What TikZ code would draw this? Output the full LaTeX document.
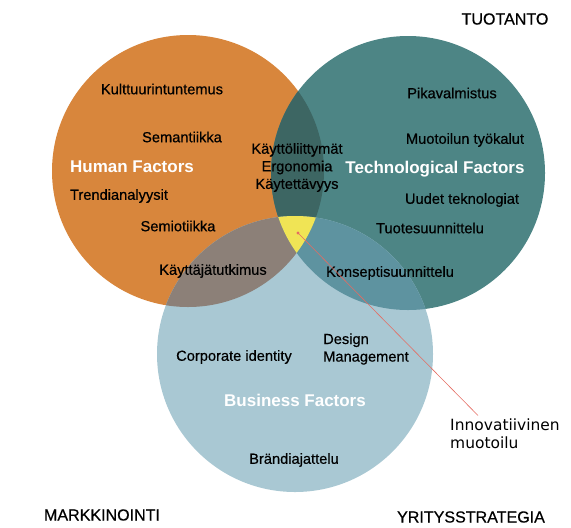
\documentclass[tikz,border=0pt]{standalone}
\usepackage{fontspec}
\setmainfont{Liberation Sans}
\newfontfamily\labfont[FakeBold=0.5]{Liberation Sans}
\newfontfamily\verdfont{DejaVu Sans}
\definecolor{humancol}{RGB}{216,134,60}
\definecolor{techcol}{RGB}{77,133,133}
\definecolor{busicol}{RGB}{169,200,211}
\definecolor{humtech}{RGB}{61,102,99}
\definecolor{humbusi}{RGB}{140,128,120}
\definecolor{techbusi}{RGB}{94,147,160}
\definecolor{innocol}{RGB}{240,228,85}
\definecolor{pointcol}{RGB}{228,108,98}
\tikzset{
  lab/.style={inner sep=0pt,font=\labfont\fontsize{12.5}{15}\selectfont},
  factor/.style={inner sep=0pt,text=white,font=\fontsize{14.5}{17}\selectfont\bfseries},
  corner/.style={inner sep=0pt,font=\labfont\fontsize{13.7}{16}\selectfont},
  pointer/.style={pointcol,line width=0.5pt}
}
\begin{document}
\begin{tikzpicture}[x=0.03cm,y=-0.03cm]
\useasboundingbox (0,0) rectangle (571,527);
\def\human{(188,171) circle (136)}
\def\tech{(408,173) circle (137)}
\def\busi{(295,354) circle (138)}
% the three circles
\fill[humancol] \human;
\fill[techcol] \tech;
\fill[busicol] \busi;
% overlaps
\begin{scope}
  \clip \human;
  \fill[humtech] \tech;
  \fill[humbusi] \busi;
\end{scope}
\begin{scope}
  \clip \tech;
  \fill[techbusi] \busi;
  \clip \human;
  \fill[innocol] \busi;
\end{scope}
% corners
\node[corner] (tuot) at (505,19) {TUOTANTO};
\node[corner] (mark) at (102,515) {MARKKINOINTI};
\node[corner] (yrit) at (471,517) {YRITYSSTRATEGIA};
% human factors
\node[factor] (humf) at (132,167) {Human Factors};
\node[lab] (kult) at (162,89) {Kulttuurintuntemus};
\node[lab] (sema) at (182,137) {Semantiikka};
\node[lab] (tren) at (119,196) {Trendianalyysit};
\node[lab] (semi) at (178,226) {Semiotiikka};
\node[lab] (kayt) at (213,271) {Käyttäjätutkimus};
\node[lab,align=center] (ergo) at (297,167.5) {Käyttöliittymät\\Ergonomia\\Käytettävyys};
% technological factors
\node[factor] (tecf) at (435,169) {Technological Factors};
\node[lab] (pika) at (452,93) {Pikavalmistus};
\node[lab] (tyok) at (465,140) {Muotoilun työkalut};
\node[lab] (uude) at (462,200) {Uudet teknologiat};
\node[lab] (tuot2) at (430,228) {Tuotesuunnittelu};
\node[lab] (kons) at (390,273) {Konseptisuunnittelu};
% business factors
\node[factor] (busf) at (295,400) {Business Factors};
\node[lab] (corp) at (234,357) {Corporate identity};
\node[lab,anchor=west,align=left] (desi) at (323,349) {Design\\Management};
\node[lab] (bran) at (294,460) {Brändiajattelu};
% innovation pointer
\node[inner sep=0pt,anchor=west,align=left,font=\verdfont\fontsize{13.2}{15.3}\selectfont] (innov) at (450,434) {Innovatiivinen\\muotoilu};
\coordinate (spot) at (298,233);
\fill[pointcol] (spot) circle (1.6);
\draw[pointer] (spot) -- ([xshift=0.84cm,yshift=0.1cm]innov.north west);
\end{tikzpicture}
\end{document}
